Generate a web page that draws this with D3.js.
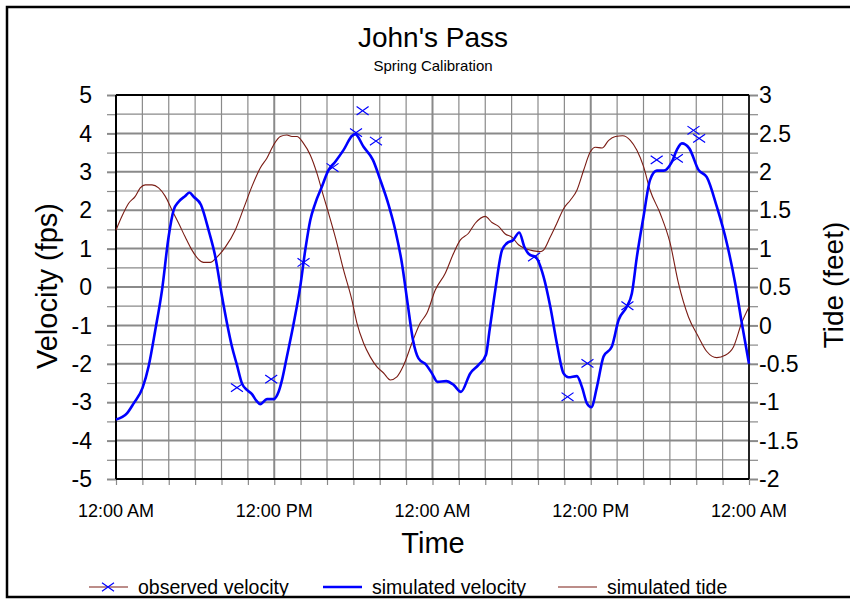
<!DOCTYPE html>
<html><head><meta charset="utf-8">
<script src="https://cdn.jsdelivr.net/npm/d3@7"></script>
<style>body{margin:0;background:#fff}svg{display:block;font-family:"Liberation Sans",Arial,sans-serif}</style>
</head><body><svg id="c" width="850" height="604"></svg>
<script>
// hours since 12:00 AM
const velHours = [0,0.83,1.34,2.02,2.47,2.98,3.49,3.99,4.37,4.75,5.25,5.56,5.89,6.44,7.02,7.53,8.04,8.42,8.79,9.17,9.55,9.93,10.31,10.64,10.94,11.45,11.95,12.33,12.59,12.96,13.47,13.97,14.35,14.73,15.11,15.61,16.12,16.6,17.26,17.89,18.14,18.77,19.48,20.04,20.67,21.18,21.68,22.11,22.52,22.94,23.53,23.96,24.38,25.04,25.6,26.16,26.86,27.49,28.05,28.33,28.76,29.27,29.64,30.1,30.58,30.96,31.41,31.79,32.42,32.93,33.43,33.94,34.31,34.95,35.33,35.71,36.04,36.47,36.97,37.6,38.11,38.74,39.12,39.5,40.0,40.5,41.01,41.52,42.15,42.53,42.91,43.47,44.17,44.8,45.56,46.32,46.95,47.46,48];
const velValues = [-3.45,-3.29,-3.03,-2.62,-2.07,-1.12,-0.08,1.31,2.0,2.22,2.37,2.46,2.35,2.14,1.48,0.79,-0.25,-0.95,-1.55,-2.03,-2.51,-2.68,-2.79,-2.96,-3.05,-2.92,-2.92,-2.73,-2.42,-1.81,-0.95,0.01,0.96,1.74,2.18,2.61,3.05,3.25,3.57,3.93,3.98,3.65,3.31,2.79,2.14,1.48,0.62,-0.42,-1.38,-1.86,-2.03,-2.25,-2.47,-2.45,-2.55,-2.73,-2.25,-2.03,-1.77,-1.12,-0.08,0.96,1.14,1.22,1.42,1.05,0.83,0.79,0.27,-0.51,-1.47,-2.25,-2.35,-2.32,-2.6,-3.03,-3.13,-2.6,-1.81,-1.55,-0.86,-0.51,-0.16,0.79,1.83,2.79,3.03,3.03,3.26,3.57,3.74,3.61,3.05,2.86,2.09,1.14,0.1,-0.95,-2.0];

const tideHours = [0,0.45,0.96,1.46,1.84,2.22,2.73,3.23,3.74,4.25,4.75,5.25,5.76,6.26,6.64,7.15,7.66,8.29,9.04,9.67,10.31,10.94,11.45,11.95,12.46,12.96,13.34,13.72,14.22,14.73,15.24,15.74,16.12,16.63,17.26,17.89,18.27,18.77,19.28,19.79,20.29,20.8,21.3,21.81,22.44,23.07,23.58,24.21,24.97,25.6,26.1,26.73,27.24,28.0,28.51,29.01,29.52,30.02,30.52,31.03,31.66,32.17,32.42,32.93,33.43,33.94,34.45,34.95,35.46,35.97,36.35,36.86,37.36,37.87,38.42,39.0,39.5,40.0,40.5,41.26,42.02,42.65,43.41,44.17,44.8,45.56,46.19,46.82,47.46,48];
const tideValues = [1.24,1.42,1.59,1.68,1.79,1.83,1.83,1.79,1.68,1.5,1.33,1.15,0.98,0.86,0.82,0.82,0.89,1.02,1.24,1.52,1.81,2.05,2.18,2.35,2.46,2.48,2.46,2.46,2.37,2.22,1.98,1.68,1.46,1.15,0.72,0.33,0.03,-0.23,-0.41,-0.54,-0.62,-0.71,-0.67,-0.52,-0.23,0.03,0.16,0.46,0.68,0.94,1.11,1.2,1.33,1.42,1.34,1.29,1.19,1.15,1.05,1.0,0.97,0.96,0.98,1.15,1.33,1.52,1.63,1.76,2.02,2.26,2.32,2.31,2.41,2.46,2.47,2.41,2.28,2.07,1.76,1.46,1.07,0.55,0.11,-0.15,-0.34,-0.42,-0.39,-0.28,0.04,0.24];

const obsHours = [9.17,11.77,14.22,16.42,18.2,18.7,19.71,31.7,34.24,35.75,38.78,41.0,42.53,43.79,44.22];
const obsValues = [-2.62,-2.4,0.64,3.11,4.02,4.59,3.8,0.78,-2.86,-1.99,-0.49,3.31,3.35,4.08,3.87];

const xTickHours = [0,12,24,36,48];
const xTickLabels = ["12:00 AM","12:00 PM","12:00 AM","12:00 PM","12:00 AM"];
const velTicks = [5,4,3,2,1,0,-1,-2,-3,-4,-5];
const tideTicks = [3,2.5,2,1.5,1,0.5,0,-0.5,-1,-1.5,-2];
const legendLabels = ["observed velocity","simulated velocity","simulated tide"];

const svg = d3.select("#c");
const L=116, R=749, T=95, B=479;
const x = d3.scaleLinear().domain([0,48]).range([L,R]);
const y = d3.scaleLinear().domain([-5,5]).range([B,T]);
const y2 = d3.scaleLinear().domain([-2,3]).range([B,T]);
const BLUE="#0000ff", BROWN="#7a1c14", GRID="#8a8a8a";

// frame
svg.append("rect").attr("x",7).attr("y",7).attr("width",880).attr("height",590)
  .attr("fill","none").attr("stroke","#000").attr("stroke-width",2.5);

// grid
const g = svg.append("g");
d3.range(-5,5.01,0.5).forEach(v=>{
  const major = Math.abs(v-Math.round(v))<1e-6;
  g.append("line").attr("x1",L).attr("x2",R).attr("y1",y(v)).attr("y2",y(v))
   .attr("stroke",GRID).attr("stroke-width",major?2:1.2);
});
d3.range(0,48.01,2).forEach(h=>{
  const major = h%12===0;
  g.append("line").attr("y1",T).attr("y2",B).attr("x1",x(h)).attr("x2",x(h))
   .attr("stroke",GRID).attr("stroke-width",major?2:1.2);
});

// axes with ticks
const fmt = d=>String(d);
const yAx = svg.append("g").attr("transform",`translate(${L},0)`)
  .call(d3.axisLeft(y).tickValues(d3.range(-5,5.01,0.5)).tickSize(9).tickFormat(""));
yAx.selectAll(".tick line").attr("stroke",GRID).attr("stroke-width",d=>Number.isInteger(d)?2:1.2);
yAx.select(".domain").remove();
const y2Ax = svg.append("g").attr("transform",`translate(${R},0)`)
  .call(d3.axisRight(y2).tickValues(d3.range(-2,3.01,0.25)).tickSize(9).tickFormat(""));
y2Ax.selectAll(".tick line").attr("stroke",GRID).attr("stroke-width",d=>Math.abs(d*2-Math.round(d*2))<1e-6?2:1.2);
y2Ax.select(".domain").remove();
const xAx = svg.append("g").attr("transform",`translate(0,${B})`)
  .call(d3.axisBottom(x).tickValues(d3.range(0,48.01,2)).tickSize(6).tickFormat(""));
xAx.selectAll(".tick line").attr("stroke",GRID).attr("stroke-width",1.2);
xAx.select(".domain").remove();

// axis lines
svg.append("line").attr("x1",L).attr("x2",R).attr("y1",T).attr("y2",T).attr("stroke","#000").attr("stroke-width",2);
svg.append("line").attr("x1",L).attr("x2",R).attr("y1",B).attr("y2",B).attr("stroke","#000").attr("stroke-width",2);
svg.append("line").attr("x1",L).attr("x2",L).attr("y1",T).attr("y2",B).attr("stroke","#000").attr("stroke-width",2);
svg.append("line").attr("x1",R).attr("x2",R).attr("y1",T).attr("y2",B).attr("stroke","#000").attr("stroke-width",1.5);

// tick labels
svg.append("g").selectAll("text").data(velTicks).join("text")
  .attr("x",92).attr("y",d=>y(d)).attr("dy","0.36em").attr("text-anchor","end")
  .attr("font-size",23).text(fmt);
svg.append("g").selectAll("text").data(tideTicks).join("text")
  .attr("x",759).attr("y",d=>y2(d)).attr("dy","0.36em").attr("text-anchor","start")
  .attr("font-size",23).text(fmt);
svg.append("g").selectAll("text").data(xTickHours).join("text")
  .attr("x",d=>x(d)).attr("y",517).attr("text-anchor","middle")
  .attr("font-size",18).text((d,i)=>xTickLabels[i]);

// titles
svg.append("text").attr("x",433).attr("y",47).attr("text-anchor","middle").attr("font-size",28).text("John's Pass");
svg.append("text").attr("x",433).attr("y",71).attr("text-anchor","middle").attr("font-size",15).text("Spring Calibration");
svg.append("text").attr("x",433).attr("y",553).attr("text-anchor","middle").attr("font-size",29).text("Time");
svg.append("text").attr("transform","translate(57,286) rotate(-90)").attr("text-anchor","middle").attr("font-size",29).text("Velocity (fps)");
svg.append("text").attr("transform","translate(843,285) rotate(-90)").attr("text-anchor","middle").attr("font-size",28).text("Tide (feet)");

// series
const plot = svg.append("g");
plot.append("path").datum(tideHours.map((h,i)=>[h,tideValues[i]]))
  .attr("d",d3.line().x(d=>x(d[0])).y(d=>y2(d[1])).curve(d3.curveMonotoneX))
  .attr("fill","none").attr("stroke",BROWN).attr("stroke-width",1.1);
plot.append("path").datum(velHours.map((h,i)=>[h,velValues[i]]))
  .attr("d",d3.line().x(d=>x(d[0])).y(d=>y(d[1])).curve(d3.curveMonotoneX))
  .attr("fill","none").attr("stroke",BLUE).attr("stroke-width",2.6);
const xm = (g,cx,cy,s)=>{
  g.append("path").attr("d",`M${cx-s},${cy-s*0.7}L${cx+s},${cy+s*0.7}M${cx-s},${cy+s*0.7}L${cx+s},${cy-s*0.7}`)
   .attr("stroke",BLUE).attr("stroke-width",1.2).attr("fill","none");
};
const mk = plot.append("g");
obsHours.forEach((h,i)=>xm(mk,x(h),y(obsValues[i]),6));

// legend
const lg = svg.append("g");
const ly = 587, lfs = 19.5;
lg.append("line").attr("x1",89).attr("x2",128).attr("y1",ly).attr("y2",ly).attr("stroke",BROWN).attr("stroke-width",1.1);
xm(lg,108,ly,6);
lg.append("text").attr("x",138).attr("y",ly).attr("dy","0.36em").attr("font-size",lfs).text(legendLabels[0]);
lg.append("line").attr("x1",323).attr("x2",362).attr("y1",ly).attr("y2",ly).attr("stroke",BLUE).attr("stroke-width",2.6);
lg.append("text").attr("x",372).attr("y",ly).attr("dy","0.36em").attr("font-size",lfs).text(legendLabels[1]);
lg.append("line").attr("x1",558).attr("x2",597).attr("y1",ly).attr("y2",ly).attr("stroke",BROWN).attr("stroke-width",1.1);
lg.append("text").attr("x",607).attr("y",ly).attr("dy","0.36em").attr("font-size",lfs).text(legendLabels[2]);
</script></body></html>
